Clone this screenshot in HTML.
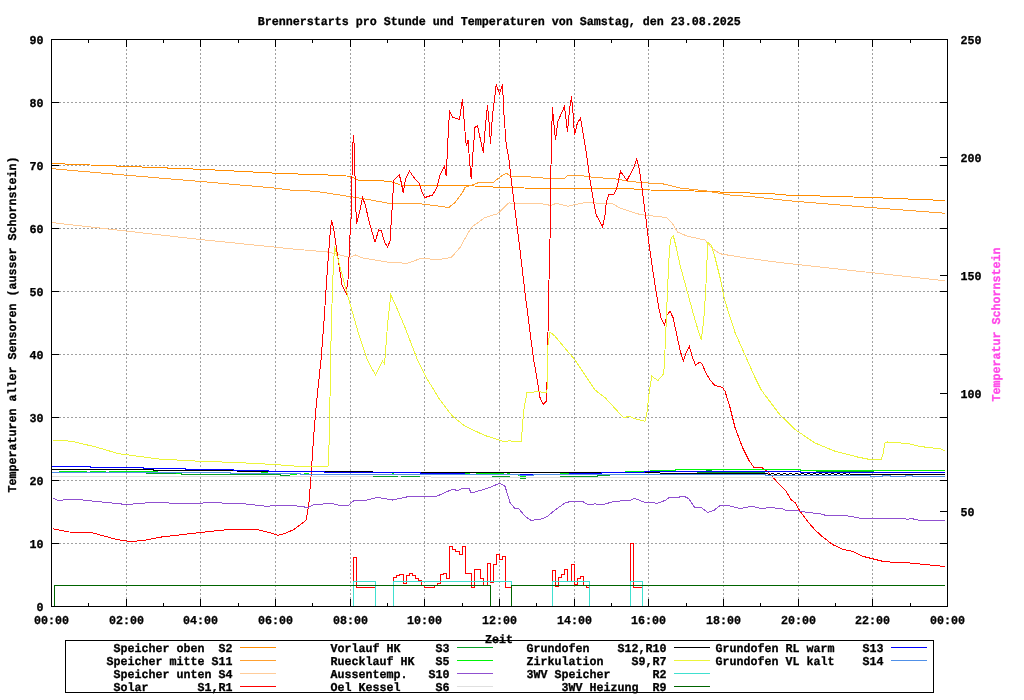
<!DOCTYPE html>
<html lang="de"><head><meta charset="utf-8"><title>Brennerstarts pro Stunde und Temperaturen</title>
<style>html,body{margin:0;padding:0;background:#fff;overflow:hidden}svg{display:block;will-change:transform}text{font-family:"Liberation Mono","DejaVu Sans Mono",monospace;font-weight:bold;font-size:12px;white-space:pre;text-rendering:geometricPrecision;stroke:#000;stroke-width:.3px}.c polyline{fill:none;stroke-width:1;shape-rendering:crispEdges;stroke-linejoin:miter}.g line{stroke:#a0a0a0;stroke-width:1;stroke-dasharray:2 2;shape-rendering:crispEdges}.a line,.a rect{stroke:#000;stroke-width:1;fill:none;shape-rendering:crispEdges}</style></head><body>
<svg width="1024" height="700" viewBox="0 0 1024 700">
<rect width="1024" height="700" fill="#fff"/>
<g class="g">
<line x1="126.5" y1="607" x2="126.5" y2="39"/>
<line x1="200.5" y1="607" x2="200.5" y2="39"/>
<line x1="275.5" y1="607" x2="275.5" y2="39"/>
<line x1="350.5" y1="607" x2="350.5" y2="39"/>
<line x1="424.5" y1="607" x2="424.5" y2="39"/>
<line x1="499.5" y1="607" x2="499.5" y2="39"/>
<line x1="574.5" y1="607" x2="574.5" y2="39"/>
<line x1="648.5" y1="607" x2="648.5" y2="39"/>
<line x1="723.5" y1="607" x2="723.5" y2="39"/>
<line x1="798.5" y1="607" x2="798.5" y2="39"/>
<line x1="872.5" y1="607" x2="872.5" y2="39"/>
<line x1="51" y1="543.5" x2="948" y2="543.5"/>
<line x1="51" y1="480.5" x2="948" y2="480.5"/>
<line x1="51" y1="417.5" x2="948" y2="417.5"/>
<line x1="51" y1="354.5" x2="948" y2="354.5"/>
<line x1="51" y1="291.5" x2="948" y2="291.5"/>
<line x1="51" y1="228.5" x2="948" y2="228.5"/>
<line x1="51" y1="165.5" x2="948" y2="165.5"/>
<line x1="51" y1="102.5" x2="948" y2="102.5"/>
</g>
<g class="c">
<polyline points="52,163.5 126,166.4 201,169.3 274,173.1 290,173.75 327.5,175 351,176.25 357.5,180 390,181.25 397.5,183.75 400,185 465,185.5 502.5,187.5 546,188.5 630,188.75 650,190 705,191.25 730,192.5 770,193.5 786,195 870,197.5 945,200.5" stroke="#ff8c00"/>
<polyline points="52,168.7 126,175.2 201,181.5 274,188 290,190 315,191.25 340,195 362.5,198.5 390,203.5 420,203.75 440,206.25 448.75,207.5 455,202.5 462.5,192.5 465,187.5 477.5,183 493.75,182 500,177 506.25,173.25 511.25,176.25 525,176.5 546,178.25 555,179 563.75,178.75 567.5,175.75 580,175.5 595,177.5 615,178.75 630,181.5 647.5,183 662.5,183.75 680,188 705,190.75 730,195 755,197 786,200.5 870,207.5 945,213.25" stroke="#ffa030"/>
<polyline points="52,222.6 126,231 201,239.6 274,247 290,248.75 327.5,252 350,257.5 355.5,255 362.5,258 390,262.5 407.5,263.25 420,258.75 440,259.25 451.25,257.5 460,247.5 471.25,227.5 485,217.5 497.5,213.75 508.75,203 540,203.5 551.25,205.5 556.25,203.25 567.5,206.25 585,202.5 612.5,203.75 620,208 640,214.5 666.25,217.5 672.5,223.75 677.5,232 687.5,236.25 705,240 712.5,248.75 720,253.75 742.5,257.5 770,261.25 786,263.25 870,272.5 945,280.75" stroke="#ffcc99"/>
<polyline points="52.75,528.75 69,532 91.5,532.5 116.5,539.5 130,541.5 144,540.5 161.5,537 200,532.5 224,530 244,529.25 256.5,529.5 269,532.5 277.75,535.25 285,533.5 294,529.5 300,525 306.25,520 308.75,505 311.25,472.5 313.75,435 316.25,405 321,360 323.75,325 327.5,267.5 330,235 331.5,220.5 333.75,228.75 337.5,255 342,285 346.25,293 348,280 350,235 351.25,215 352.5,150 353.5,135 354.5,150 355.5,200 356.5,223.75 359.5,212.5 362.5,197.5 365,204 370,225 375,242 378.75,230 381.25,230.5 384.5,242 387.5,247 390,241.25 392,210 393.75,180 399.25,174.5 401.25,182.5 403.25,193 405.5,178.75 409.5,171.25 415,178.75 418.75,182.5 422.5,193 425,197.5 432.5,195 437,187.5 440,175 444.5,165.75 446.25,176.25 447.5,147.5 449.5,111.25 452.5,117 459.5,119.5 462.5,98.75 464.25,122.5 466.25,146.25 468,140 469.5,160 471.25,179.25 473,152.5 475,127.5 477.5,125.5 480,137.5 483.25,152.5 485.75,122.5 487.5,105.5 489.25,125 490.5,143.75 492.5,115 496.25,84.5 499.5,93.75 502.5,84.5 504,115 506.25,145 508.75,157.5 511.25,180 513.75,200 515,210 520,250 525,292.5 530,332 533.75,360 537.5,382 540,397.5 543.25,404.25 546.25,401.25 547,382.5 548,332.5 548.75,290 550,240 551,165 551.5,135 552.5,107.5 553.75,122.5 555.5,139.5 558,121.25 564.5,106.25 567.5,132 569.5,110 571.5,96.25 573,112.5 574.5,135 577.5,122.5 580.5,118.25 583,132.5 586.25,152.5 590,180 593.75,202.5 596.25,215 602.5,227 605,215 606.25,202.5 608.75,194.25 613.75,195 617,187.5 620.5,171.25 627,180.5 633.75,167.5 636.75,159.25 639.5,170 642,187.5 643.75,202.5 645.5,215 647.5,232.5 651.25,260 655,285 658.75,307.5 661.25,318.75 664.5,325 667,315 670,311.25 673,317.5 676.25,332.5 680,350 683.25,361.25 686.25,352.5 689.25,346.25 692.5,357.5 695.5,365 700,362 702.5,364.5 705,371.25 710,380 715,385.5 722.5,387.5 725,391.25 730,407.5 735,427.5 742.5,447.5 748.75,460 753.75,467.3 762.5,468 770,473.75 777.5,482.5 786,491.25 791.25,500 795,502.5 800,511.25 807.5,521.25 815,530 822.5,536.75 832.5,544.5 842.5,549.25 852.5,551.25 862.5,556.25 872.5,558.75 882.5,561.25 895,562.5 910,563 925,564.5 945,566.5" stroke="#ff0000"/>
<polyline points="353.5,585 353.5,557.5 356.5,557.5 356.5,587.5 375.5,587.5" stroke="#ff0000"/>
<polyline points="393.5,581.5 393.5,577.5 396.5,577.5 396.5,575.5 399.5,575.5 399.5,574.5 403.5,574.5 403.5,583.5 406.5,583.5 406.5,575.5 409.5,575.5 409.5,573.5 412.5,573.5 412.5,575.5 415.5,575.5 415.5,578.5 418.5,578.5 418.5,580.5 421.5,580.5 421.5,585.5 424.5,585.5 424.5,587.5 434.5,587.5 434.5,585.5 437.5,585.5 437.5,583.5 440.5,583.5 440.5,574.5 443.5,574.5 443.5,573.5 446.5,573.5 446.5,578.5 449.5,578.5 449.5,546.5 452.5,546.5 452.5,549.5 455.5,549.5 455.5,551.5 459.5,551.5 459.5,554.5 462.5,554.5 462.5,546.5 465.5,546.5 465.5,573.5 471.5,573.5 471.5,587.5 474.5,587.5 474.5,569.5 480.5,569.5 480.5,578.5 483.5,578.5 483.5,585.5 487.5,585.5 487.5,563.5 490.5,563.5 490.5,582.5 493.5,582.5 493.5,564.5 496.5,564.5 496.5,554.5 499.5,554.5 499.5,559.5 502.5,559.5 502.5,556.5 505.5,556.5 505.5,587.5 511.5,587.5" stroke="#ff0000"/>
<polyline points="552.5,581.5 552.5,570.5 555.5,570.5 555.5,586.5 558.5,586.5 558.5,577.5 561.5,577.5 561.5,574.5 564.5,574.5 564.5,569.5 567.5,569.5 567.5,581.5 571.5,581.5 571.5,564.5 574.5,564.5 574.5,584.5 577.5,584.5 577.5,578.5 580.5,578.5 580.5,576.5 583.5,576.5 583.5,585.5 586.5,585.5 586.5,587.5 589.5,587.5" stroke="#ff0000"/>
<polyline points="630.5,581.5 630.5,543.5 633.5,543.5 633.5,587.5 642.5,587.5" stroke="#ff0000"/>
<polyline points="52.75,498 57.75,500.5 74,499 94,501.25 126.5,504.5 151.5,502.5 164,502.5 174,503.5 199,503.5 206.5,502.5 244,503.75 266.5,506.25 284,505 300,506.25 307.5,507.5 315,504.25 332.5,503.75 340,505.5 348.75,505 353.75,500.75 365,500.5 377.5,497.5 392.5,500 410,496.25 425,496.25 435,497 452.5,489.25 457.5,490.5 463.75,488 468.75,488 471.25,493 480,490.5 490,487.5 499.5,483.25 505,486.25 510,502.5 515,508.75 518.75,508.75 525,516.25 531.25,520.5 542.5,518.75 547.5,516.25 555,510 565,503 571.25,501.25 582.5,501.5 588.75,505 595,503.75 601.25,505 615,501.25 630,500.5 634.5,498.25 646.25,503 650,502.5 657.5,503.25 665,500.5 670,497 677.5,497.5 683.75,496 688.75,498.75 695,508 701.25,507.5 708,512.5 713.75,510.5 720,505.5 727.5,505.5 740,508.5 752.5,506.25 761.25,508.5 770,507.5 782.5,508.75 786.25,510.5 797.5,510.75 807.5,512.5 820,513.75 826.25,515.5 845,515.5 857.5,517.5 860,518.5 905,518.5 907.5,519.5 911.25,518.5 920,520.5 945,520.5" stroke="#9050d0"/>
<polyline points="52,476.5 430,476.5 432,477.5 874,477.5 876,476.5 945,476.5" stroke="#e0e0e0"/>
<polyline points="146,473.5 181,473.5 181,474.5 280,474.5 280,475.5 290,475.5" stroke="#08a028"/>
<polyline points="373,476.5 398,476.5" stroke="#08a028"/>
<polyline points="401,476.5 420,476.5" stroke="#08a028"/>
<polyline points="492,476.5 510,476.5" stroke="#08a028"/>
<polyline points="520,478.5 526,478.5" stroke="#08a028"/>
<polyline points="560,476.5 597,476.5 597,475.5 610,475.5" stroke="#08a028"/>
<polyline points="669,473.5 675,473.5" stroke="#08a028"/>
<polyline points="697,472.5 765,472.5" stroke="#08a028"/>
<polyline points="706,470.5 712,470.5" stroke="#08a028"/>
<polyline points="816,471.5 874,471.5" stroke="#08a028"/>
<polyline points="59,471.5 87,471.5" stroke="#00f408"/>
<polyline points="90,471.5 106,471.5" stroke="#00f408"/>
<polyline points="109,471.5 158,471.5" stroke="#00f408"/>
<polyline points="176,473.5 181,473.5" stroke="#00f408"/>
<polyline points="261,472.5 268,472.5" stroke="#00f408"/>
<polyline points="290,474.5 297,474.5" stroke="#00f408"/>
<polyline points="304,473.5 308,473.5 308,474.5" stroke="#00f408"/>
<polyline points="392,473.5 394,473.5" stroke="#00f408"/>
<polyline points="464,473.5 470,473.5" stroke="#00f408"/>
<polyline points="476,473.5 504,473.5" stroke="#00f408"/>
<polyline points="507,473.5 510,473.5" stroke="#00f408"/>
<polyline points="516,474.5 520,475.5 520,476.5 526,476.5" stroke="#00f408"/>
<polyline points="560,473.5 569,473.5" stroke="#00f408"/>
<polyline points="625,471.5 644,471.5" stroke="#00f408"/>
<polyline points="650,470.5 675,470.5 675,469.5 800,469.5 800,470.5 945,470.5" stroke="#00f408"/>
<polyline points="52,469.5 153,469.5 153,470.5 235,470.5 240,471.5 372,471.5 372,472.5 644,472.5 675,473.5 765,473.5" stroke="#000000"/>
<polyline points="765,473.5 850,473.5" stroke="#000000" stroke-dasharray="3 3"/>
<polyline points="768,474.5 850,474.5" stroke="#000000" stroke-dasharray="3 3"/>
<polyline points="850,474.5 945,474.5" stroke="#000000"/>
<polyline points="52.75,440 71.5,441.25 94,446.5 119,453.75 159,459 199,461.25 236.5,462.5 274,464.5 300,466.5 302.5,466.75 328,466.75 329.5,435 330.5,360 332.5,285 334.5,246.25 337.5,257.5 347.5,295 357.5,330 367.25,360 375.5,375 382.5,361.25 384.5,363.75 385.5,352 387.5,325 390.75,295 395,303.75 405,327.5 417.5,360 426.25,377.5 440,400 452.5,416.25 465,426.25 485,435.5 505,442 509.5,440.5 511.25,441.25 521.25,441.25 523.75,410 527,392.5 537.5,391.75 546.25,392.5 547,390 548,345 550,332 555,336.25 575,360 595,390 605,397.5 623.75,418 628.75,416.25 635,418.75 645,421.25 647,412.5 649.5,390 651.75,376.25 658,380.5 663.75,373.75 665.5,340 667.5,290 669.5,247.5 671.25,237.5 673.25,235.5 676.25,247.5 680,265 687.5,292.5 695,320 701.25,340 703.75,320 705.75,290 707,260 708,242.5 711.25,245 715,257.5 720,277.5 725,301.25 735,332.5 745,355 755,377.5 761.25,390 765,395 780,415 786,420.5 795,429.5 815,443 835,451.25 857.5,457 870,459.5 881.25,459.25 883,453.75 885,443 887.5,442 895,442.5 907.5,443.5 920,446.5 940,448.75 945,450.75" stroke="#ecf53a"/>
<polyline points="353.5,606 353.5,581.5 375.5,581.5 375.5,606" stroke="#40e0d0"/>
<polyline points="393.5,606 393.5,581.5 511.5,581.5 511.5,606" stroke="#40e0d0"/>
<polyline points="552.5,606 552.5,581.5 589.5,581.5 589.5,606" stroke="#40e0d0"/>
<polyline points="630.5,606 630.5,581.5 642.5,581.5 642.5,606" stroke="#40e0d0"/>
<polyline points="54.5,606 54.5,585.5 490.5,585.5 490.5,606" stroke="#006400"/>
<polyline points="511.5,606 511.5,585.5 945,585.5" stroke="#006400"/>
<polyline points="52,466.5 90,466.5 90,467.5 143,467.5 143,468.5 185,468.5 185,469.5 233,469.5 233,470.5 268,470.5 268,471.5 324,471.5 324,472.5 420,472.5 420,473.5 464,473.5 464,474.5 569,474.5 569,473.5 601,473.5 601,472.5 644,472.5 644,471.5 800,471.5 800,472.5 945,472.5" stroke="#0000ff"/>
<polyline points="52,472.5 230,472.5 230,473.5 300,473.5 300,474.5 519,474.5 519,475.5 533,475.5 533,474.5 765,474.5 765,475.5 870,475.5 870,476.5 882,476.5 882,475.5 890,475.5 890,476.5 905,476.5 905,475.5 912,475.5 912,476.5 945,476.5" stroke="#5090e8"/>
</g>
<g class="a">
<rect x="51.5" y="39.5" width="896" height="567"/>
<line x1="51.5" y1="607" x2="51.5" y2="599"/>
<line x1="51.5" y1="39" x2="51.5" y2="47"/>
<line x1="88.5" y1="607" x2="88.5" y2="603"/>
<line x1="88.5" y1="39" x2="88.5" y2="43"/>
<line x1="126.5" y1="607" x2="126.5" y2="599"/>
<line x1="126.5" y1="39" x2="126.5" y2="47"/>
<line x1="163.5" y1="607" x2="163.5" y2="603"/>
<line x1="163.5" y1="39" x2="163.5" y2="43"/>
<line x1="200.5" y1="607" x2="200.5" y2="599"/>
<line x1="200.5" y1="39" x2="200.5" y2="47"/>
<line x1="238.5" y1="607" x2="238.5" y2="603"/>
<line x1="238.5" y1="39" x2="238.5" y2="43"/>
<line x1="275.5" y1="607" x2="275.5" y2="599"/>
<line x1="275.5" y1="39" x2="275.5" y2="47"/>
<line x1="312.5" y1="607" x2="312.5" y2="603"/>
<line x1="312.5" y1="39" x2="312.5" y2="43"/>
<line x1="350.5" y1="607" x2="350.5" y2="599"/>
<line x1="350.5" y1="39" x2="350.5" y2="47"/>
<line x1="387.5" y1="607" x2="387.5" y2="603"/>
<line x1="387.5" y1="39" x2="387.5" y2="43"/>
<line x1="424.5" y1="607" x2="424.5" y2="599"/>
<line x1="424.5" y1="39" x2="424.5" y2="47"/>
<line x1="462.5" y1="607" x2="462.5" y2="603"/>
<line x1="462.5" y1="39" x2="462.5" y2="43"/>
<line x1="499.5" y1="607" x2="499.5" y2="599"/>
<line x1="499.5" y1="39" x2="499.5" y2="47"/>
<line x1="536.5" y1="607" x2="536.5" y2="603"/>
<line x1="536.5" y1="39" x2="536.5" y2="43"/>
<line x1="574.5" y1="607" x2="574.5" y2="599"/>
<line x1="574.5" y1="39" x2="574.5" y2="47"/>
<line x1="611.5" y1="607" x2="611.5" y2="603"/>
<line x1="611.5" y1="39" x2="611.5" y2="43"/>
<line x1="648.5" y1="607" x2="648.5" y2="599"/>
<line x1="648.5" y1="39" x2="648.5" y2="47"/>
<line x1="686.5" y1="607" x2="686.5" y2="603"/>
<line x1="686.5" y1="39" x2="686.5" y2="43"/>
<line x1="723.5" y1="607" x2="723.5" y2="599"/>
<line x1="723.5" y1="39" x2="723.5" y2="47"/>
<line x1="760.5" y1="607" x2="760.5" y2="603"/>
<line x1="760.5" y1="39" x2="760.5" y2="43"/>
<line x1="798.5" y1="607" x2="798.5" y2="599"/>
<line x1="798.5" y1="39" x2="798.5" y2="47"/>
<line x1="835.5" y1="607" x2="835.5" y2="603"/>
<line x1="835.5" y1="39" x2="835.5" y2="43"/>
<line x1="872.5" y1="607" x2="872.5" y2="599"/>
<line x1="872.5" y1="39" x2="872.5" y2="47"/>
<line x1="910.5" y1="607" x2="910.5" y2="603"/>
<line x1="910.5" y1="39" x2="910.5" y2="43"/>
<line x1="947.5" y1="607" x2="947.5" y2="599"/>
<line x1="947.5" y1="39" x2="947.5" y2="47"/>
<line x1="51" y1="606.5" x2="59" y2="606.5"/>
<line x1="948" y1="606.5" x2="940" y2="606.5"/>
<line x1="51" y1="543.5" x2="59" y2="543.5"/>
<line x1="948" y1="543.5" x2="940" y2="543.5"/>
<line x1="51" y1="480.5" x2="59" y2="480.5"/>
<line x1="948" y1="480.5" x2="940" y2="480.5"/>
<line x1="51" y1="417.5" x2="59" y2="417.5"/>
<line x1="948" y1="417.5" x2="940" y2="417.5"/>
<line x1="51" y1="354.5" x2="59" y2="354.5"/>
<line x1="948" y1="354.5" x2="940" y2="354.5"/>
<line x1="51" y1="291.5" x2="59" y2="291.5"/>
<line x1="948" y1="291.5" x2="940" y2="291.5"/>
<line x1="51" y1="228.5" x2="59" y2="228.5"/>
<line x1="948" y1="228.5" x2="940" y2="228.5"/>
<line x1="51" y1="165.5" x2="59" y2="165.5"/>
<line x1="948" y1="165.5" x2="940" y2="165.5"/>
<line x1="51" y1="102.5" x2="59" y2="102.5"/>
<line x1="948" y1="102.5" x2="940" y2="102.5"/>
<line x1="51" y1="39.5" x2="59" y2="39.5"/>
<line x1="948" y1="39.5" x2="940" y2="39.5"/>
<line x1="948" y1="511.5" x2="940" y2="511.5"/>
<line x1="948" y1="393.5" x2="940" y2="393.5"/>
<line x1="948" y1="275.5" x2="940" y2="275.5"/>
<line x1="948" y1="157.5" x2="940" y2="157.5"/>
<line x1="948" y1="39.5" x2="940" y2="39.5"/>
</g>
<g>
<text x="499.25" y="25" text-anchor="middle" textLength="483" lengthAdjust="spacingAndGlyphs">Brennerstarts pro Stunde und Temperaturen von Samstag, den 23.08.2025</text>
<text x="43.5" y="611" text-anchor="end" textLength="7" lengthAdjust="spacingAndGlyphs">0</text>
<text x="43.5" y="548" text-anchor="end" textLength="14" lengthAdjust="spacingAndGlyphs">10</text>
<text x="43.5" y="485" text-anchor="end" textLength="14" lengthAdjust="spacingAndGlyphs">20</text>
<text x="43.5" y="422" text-anchor="end" textLength="14" lengthAdjust="spacingAndGlyphs">30</text>
<text x="43.5" y="359" text-anchor="end" textLength="14" lengthAdjust="spacingAndGlyphs">40</text>
<text x="43.5" y="296" text-anchor="end" textLength="14" lengthAdjust="spacingAndGlyphs">50</text>
<text x="43.5" y="233" text-anchor="end" textLength="14" lengthAdjust="spacingAndGlyphs">60</text>
<text x="43.5" y="170" text-anchor="end" textLength="14" lengthAdjust="spacingAndGlyphs">70</text>
<text x="43.5" y="107" text-anchor="end" textLength="14" lengthAdjust="spacingAndGlyphs">80</text>
<text x="43.5" y="44" text-anchor="end" textLength="14" lengthAdjust="spacingAndGlyphs">90</text>
<text x="960.5" y="516" text-anchor="start" textLength="14" lengthAdjust="spacingAndGlyphs">50</text>
<text x="960.5" y="398" text-anchor="start" textLength="21" lengthAdjust="spacingAndGlyphs">100</text>
<text x="960.5" y="280" text-anchor="start" textLength="21" lengthAdjust="spacingAndGlyphs">150</text>
<text x="960.5" y="162" text-anchor="start" textLength="21" lengthAdjust="spacingAndGlyphs">200</text>
<text x="960.5" y="44" text-anchor="start" textLength="21" lengthAdjust="spacingAndGlyphs">250</text>
<text x="51.5" y="624" text-anchor="middle" textLength="35" lengthAdjust="spacingAndGlyphs">00:00</text>
<text x="126.5" y="624" text-anchor="middle" textLength="35" lengthAdjust="spacingAndGlyphs">02:00</text>
<text x="200.5" y="624" text-anchor="middle" textLength="35" lengthAdjust="spacingAndGlyphs">04:00</text>
<text x="275.5" y="624" text-anchor="middle" textLength="35" lengthAdjust="spacingAndGlyphs">06:00</text>
<text x="350.5" y="624" text-anchor="middle" textLength="35" lengthAdjust="spacingAndGlyphs">08:00</text>
<text x="424.5" y="624" text-anchor="middle" textLength="35" lengthAdjust="spacingAndGlyphs">10:00</text>
<text x="499.5" y="624" text-anchor="middle" textLength="35" lengthAdjust="spacingAndGlyphs">12:00</text>
<text x="574.5" y="624" text-anchor="middle" textLength="35" lengthAdjust="spacingAndGlyphs">14:00</text>
<text x="648.5" y="624" text-anchor="middle" textLength="35" lengthAdjust="spacingAndGlyphs">16:00</text>
<text x="723.5" y="624" text-anchor="middle" textLength="35" lengthAdjust="spacingAndGlyphs">18:00</text>
<text x="798.5" y="624" text-anchor="middle" textLength="35" lengthAdjust="spacingAndGlyphs">20:00</text>
<text x="872.5" y="624" text-anchor="middle" textLength="35" lengthAdjust="spacingAndGlyphs">22:00</text>
<text x="947.5" y="624" text-anchor="middle" textLength="35" lengthAdjust="spacingAndGlyphs">00:00</text>
<text x="499" y="643" text-anchor="middle" textLength="28" lengthAdjust="spacingAndGlyphs">Zeit</text>
<text x="16" y="492.5" text-anchor="start" textLength="336" lengthAdjust="spacingAndGlyphs" transform="rotate(-90 16 492.5)">Temperaturen aller Sensoren (ausser Schornstein)</text>
<text x="1000" y="401.5" text-anchor="start" textLength="154" lengthAdjust="spacingAndGlyphs" style="fill:#ff48e8;stroke:#ff48e8" transform="rotate(-90 1000 401.5)">Temperatur Schornstein</text>
</g>
<g class="a"><rect x="65.5" y="640.5" width="868" height="52"/></g>
<g class="c">
<polyline points="240,647.5 276,647.5" stroke="#ff8c00"/>
<polyline points="240,660.5 276,660.5" stroke="#ffa030"/>
<polyline points="240,673.5 276,673.5" stroke="#ffcc99"/>
<polyline points="240,686.5 276,686.5" stroke="#ff0000"/>
<polyline points="457,647.5 493,647.5" stroke="#08a028"/>
<polyline points="457,660.5 493,660.5" stroke="#00f408"/>
<polyline points="457,673.5 493,673.5" stroke="#9050d0"/>
<polyline points="457,686.5 493,686.5" stroke="#e0e0e0"/>
<polyline points="674,647.5 710,647.5" stroke="#000000"/>
<polyline points="674,660.5 710,660.5" stroke="#ecf53a"/>
<polyline points="674,673.5 710,673.5" stroke="#40e0d0"/>
<polyline points="674,686.5 710,686.5" stroke="#006400"/>
<polyline points="891,647.5 927,647.5" stroke="#0000ff"/>
<polyline points="891,660.5 927,660.5" stroke="#5090e8"/>
</g><g>
<text x="232.5" y="652" text-anchor="end" textLength="119" lengthAdjust="spacingAndGlyphs">Speicher oben  S2</text>
<text x="232.5" y="665" text-anchor="end" textLength="126" lengthAdjust="spacingAndGlyphs">Speicher mitte S11</text>
<text x="232.5" y="678" text-anchor="end" textLength="119" lengthAdjust="spacingAndGlyphs">Speicher unten S4</text>
<text x="232.5" y="691" text-anchor="end" textLength="119" lengthAdjust="spacingAndGlyphs">Solar       S1,R1</text>
<text x="449.5" y="652" text-anchor="end" textLength="119" lengthAdjust="spacingAndGlyphs">Vorlauf HK     S3</text>
<text x="449.5" y="665" text-anchor="end" textLength="119" lengthAdjust="spacingAndGlyphs">Ruecklauf HK   S5</text>
<text x="449.5" y="678" text-anchor="end" textLength="119" lengthAdjust="spacingAndGlyphs">Aussentemp.   S10</text>
<text x="449.5" y="691" text-anchor="end" textLength="119" lengthAdjust="spacingAndGlyphs">Oel Kessel     S6</text>
<text x="666.5" y="652" text-anchor="end" textLength="140" lengthAdjust="spacingAndGlyphs">Grundofen    S12,R10</text>
<text x="666.5" y="665" text-anchor="end" textLength="140" lengthAdjust="spacingAndGlyphs">Zirkulation    S9,R7</text>
<text x="666.5" y="678" text-anchor="end" textLength="140" lengthAdjust="spacingAndGlyphs">3WV Speicher      R2</text>
<text x="666.5" y="691" text-anchor="end" textLength="105" lengthAdjust="spacingAndGlyphs">3WV Heizung  R9</text>
<text x="883.5" y="652" text-anchor="end" textLength="168" lengthAdjust="spacingAndGlyphs">Grundofen RL warm    S13</text>
<text x="883.5" y="665" text-anchor="end" textLength="168" lengthAdjust="spacingAndGlyphs">Grundofen VL kalt    S14</text>
</g>
</svg></body></html>
